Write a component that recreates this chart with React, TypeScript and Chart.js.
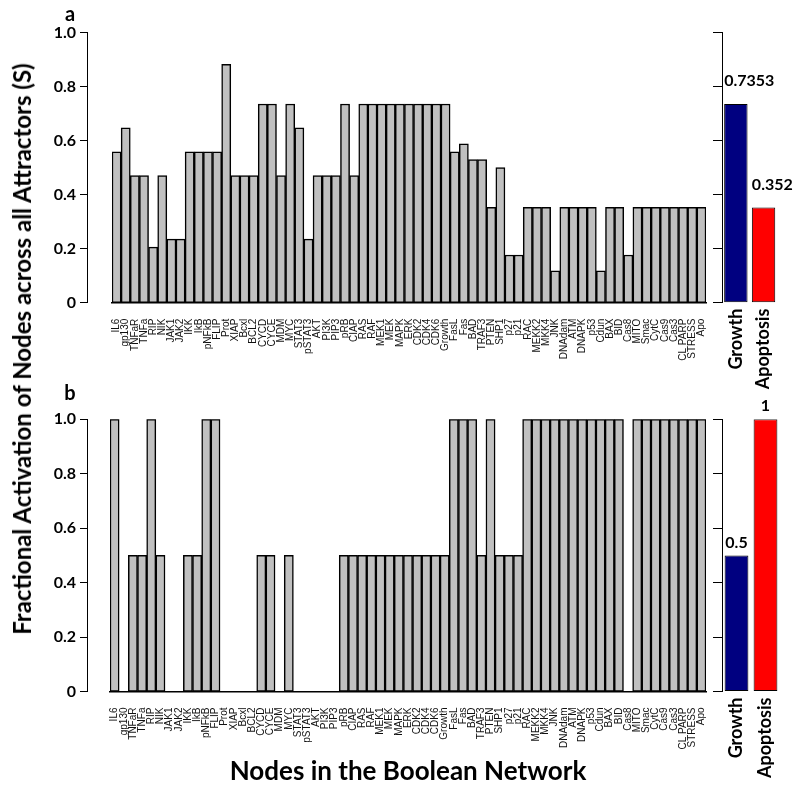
import React, { useEffect, useRef } from 'react';
import { Chart, registerables } from 'chart.js';
Chart.register(...registerables);

// ---------------- data ----------------
const nodeLabels = ['IL6','gp130','TNFaR','TNFa','RIP','NIK','JAK1','JAK2','IKK','IkB','pNFkB','FLIP','Prot','XIAP','Bcxl','BCL2','CYCD','CYCE','MDM','MYC','STAT3','pSTAT3','AKT','PI3K','PIP3','pRB','CIAP','RAS','RAF','MEK1','MEK','MAPK','ERK','CDK2','CDK4','CDK6','Growth','FasL','Fas','BAD','TRAF3','PTEN','SHP1','p27','p21','RAC','MEKK2','MKK4','JNK','DNAdam','ATM','DNAPK','p53','Cdun','BAX','BID','Cas8','MITO','Smac','CytC','Cas9','Cas3','CL PARP','STRESS','Apo'];

const activationA = [
  0.5588,0.6471,0.4706,0.4706,0.2059,0.4706,0.2353,0.2353,0.5588,0.5588,0.5588,0.5588,0.8824,0.4706,0.4706,0.4706,0.7353,0.7353,0.4706,0.7353,0.6471,0.2353,0.4706,0.4706,0.4706,0.7353,0.4706,
  0.7353,0.7353,0.7353,0.7353,0.7353,0.7353,0.7353,0.7353,0.7353,0.7353,
  0.5588,0.5882,0.5294,0.5294,0.3529,0.5,0.1765,0.1765,0.3529,0.3529,0.3529,0.1176,0.3529,0.3529,0.3529,0.3529,0.1176,0.3529,0.3529,0.1765,0.3529,
  0.3529,0.3529,0.3529,0.3529,0.3529,0.3529,0.3529,
];

const activationB = [
  1,0,0.5,0.5,1,0.5,0,0,0.5,0.5,1,1,0,0,0,0,0.5,0.5,0,0.5,0,0,0,0,0,
  0.5,0.5,0.5,0.5,0.5,0.5,0.5,0.5,0.5,0.5,0.5,0.5,
  1,1,1,0.5,1,0.5,0.5,0.5,
  1,1,1,1,1,1,1,1,1,1,1,
  0,
  1,1,1,1,1,1,1,1,
];

const outcomeLabels = ['Growth', 'Apoptosis'];
const outcomeA = [0.7353, 0.352];
const outcomeB = [0.5, 1];

const yTickLabels = ['0', '0.2', '0.4', '0.6', '0.8', '1.0'];

const yTitle = 'Fractional Activation of Nodes across all Attractors (S)';
const xTitle = 'Nodes in the Boolean Network';

// ---------------- layout / style ----------------
const BOLD = 'Lato, "Open Sans", sans-serif';
const LABEL_FONT = '"Liberation Sans", Arial, sans-serif';

type Panel = {
  top: number; height: number; yTop: number; yBottom: number;
  barLeft: number; barRight: number; sideRight: number; sideBar: number;
  values: number[]; outcomes: number[];
  labelAlign: 'left' | 'center'; labelOffset: number; showXTitle: boolean;
};

const panelA: Panel = {
  top: 0, height: 400, yTop: 32.5, yBottom: 302.7,
  barLeft: 112, barRight: 706, sideRight: 777.4, sideBar: 0.845,
  values: activationA, outcomes: outcomeA,
  labelAlign: 'left', labelOffset: 23, showXTitle: false,
};
const panelB: Panel = {
  top: 380, height: 407, yTop: 39.3, yBottom: 311.5,
  barLeft: 110, barRight: 706, sideRight: 780, sideBar: 0.82,
  values: activationB, outcomes: outcomeB,
  labelAlign: 'center', labelOffset: 13, showXTitle: true,
};

const MAIN_LEFT = 100, MAIN_W = 620;
const SIDE_LEFT = 700, SIDE_W = 100;

function valueLabelPlugin(align: 'left' | 'center', offset: number) {
  return {
    id: 'valueLabels',
    afterDatasetsDraw(chart: any) {
      const { ctx } = chart;
      const meta = chart.getDatasetMeta(0);
      const data = chart.data.datasets[0].data;
      ctx.save();
      ctx.font = `bold 16px ${BOLD}`;
      ctx.fillStyle = '#000';
      ctx.textAlign = align;
      ctx.textBaseline = 'middle';
      meta.data.forEach((el: any, i: number) => {
        const { x, y, width } = el.getProps(['x', 'y', 'width'], true);
        const tx = align === 'left' ? x - width / 2 : x;
        ctx.fillText(String(data[i]), tx, y - offset);
      });
      ctx.restore();
    },
  };
}

function axisConfig(p: Panel): any {
  return {
    type: 'bar',
    data: { labels: [], datasets: [] },
    options: {
      animation: false, responsive: false, events: [],
      layout: { padding: { top: p.yTop, bottom: p.height - p.yBottom, left: 0, right: 0 } },
      plugins: { legend: { display: false }, tooltip: { enabled: false } },
      scales: {
        x: { display: false },
        y: {
          min: 0, max: 1,
          ticks: {
            stepSize: 0.2, color: '#000', padding: 4,
            callback: (_v: any, i: number) => yTickLabels[i],
            font: { family: BOLD, weight: 'bold', size: 16 },
          },
          grid: { display: true, drawOnChartArea: false, drawTicks: true, tickLength: 7, color: '#000' },
          border: { display: true, color: '#000', width: 1 },
          afterFit: (s: any) => { s.width = 87; },
        },
      },
    },
  };
}

function mainConfig(p: Panel): any {
  return {
    type: 'bar',
    data: {
      labels: nodeLabels,
      datasets: [{
        data: p.values, backgroundColor: '#c0c0c0', borderColor: '#000',
        borderWidth: 1.5, borderSkipped: false, barPercentage: 1, categoryPercentage: 1,
      }],
    },
    options: {
      animation: false, responsive: false, events: [],
      layout: { padding: { top: p.yTop, left: p.barLeft - MAIN_LEFT, right: MAIN_LEFT + MAIN_W - p.barRight, bottom: 0 } },
      plugins: { legend: { display: false }, tooltip: { enabled: false } },
      scales: {
        x: {
          grid: { display: false, drawTicks: true, tickLength: 13 },
          border: { display: true, color: '#000', width: 1.5 },
          ticks: {
            autoSkip: false, minRotation: 90, maxRotation: 90, padding: 3, color: '#111',
            font: { family: LABEL_FONT, size: 10 },
          },
          title: {
            display: p.showXTitle, text: xTitle, color: '#000',
            font: { family: BOLD, weight: 'bold', size: 26 }, padding: { top: 0, bottom: 0 },
          },
          afterFit: (s: any) => { s.height = p.height - p.yBottom; },
        },
        y: { display: false, min: 0, max: 1 },
      },
    },
  };
}

function sideConfig(p: Panel): any {
  return {
    type: 'bar',
    data: {
      labels: outcomeLabels,
      datasets: [{
        data: p.outcomes, backgroundColor: ['#000080', '#ff0000'], borderColor: '#000',
        borderWidth: 1, borderSkipped: false, barPercentage: p.sideBar, categoryPercentage: 1,
      }],
    },
    options: {
      animation: false, responsive: false, events: [],
      layout: { padding: { top: p.yTop, left: 0, right: SIDE_LEFT + SIDE_W - p.sideRight, bottom: 0 } },
      plugins: { legend: { display: false }, tooltip: { enabled: false } },
      scales: {
        x: {
          grid: { display: false, drawTicks: true, tickLength: 3 },
          border: { display: false },
          ticks: {
            autoSkip: false, minRotation: 90, maxRotation: 90, padding: 3, color: '#000',
            font: { family: BOLD, weight: 'bold', size: 18 },
          },
          afterFit: (s: any) => { s.height = p.height - p.yBottom; },
        },
        y: {
          min: 0, max: 1,
          ticks: { display: false, stepSize: 0.2 },
          grid: { display: true, drawOnChartArea: false, drawTicks: true, tickLength: 9, color: '#000' },
          border: { display: true, color: '#000', width: 1 },
          afterFit: (s: any) => { s.width = 22; },
        },
      },
    },
    plugins: [valueLabelPlugin(p.labelAlign, p.labelOffset)],
  };
}

function ChartCanvas(props: { left: number; top: number; width: number; height: number; make: () => any }) {
  const ref = useRef<HTMLCanvasElement>(null);
  useEffect(() => {
    const chart = new Chart(ref.current as HTMLCanvasElement, props.make());
    return () => chart.destroy();
  }, []);
  return (
    <canvas
      ref={ref}
      width={props.width}
      height={props.height}
      style={{ position: 'absolute', left: props.left, top: props.top, width: props.width, height: props.height }}
    />
  );
}

function PanelView({ p }: { p: Panel }) {
  return (
    <>
      <ChartCanvas left={0} top={p.top} width={100} height={p.height} make={() => axisConfig(p)} />
      <ChartCanvas left={MAIN_LEFT} top={p.top} width={MAIN_W} height={p.height} make={() => mainConfig(p)} />
      <ChartCanvas left={SIDE_LEFT} top={p.top} width={SIDE_W} height={p.height} make={() => sideConfig(p)} />
    </>
  );
}

export default function App() {
  return (
    <div style={{ position: 'absolute', left: 0, top: 0, width: 800, height: 787, background: '#fff', overflow: 'hidden' }}>
      <PanelView p={panelA} />
      <PanelView p={panelB} />
      <div style={{
        position: 'absolute', left: 22, top: 349, transform: 'translate(-50%, -50%) rotate(-90deg)',
        whiteSpace: 'nowrap', fontFamily: BOLD, fontWeight: 'bold', fontSize: 24, color: '#000', lineHeight: 1,
      }}>{yTitle}</div>
      <div style={{
        position: 'absolute', left: 70, top: 13, transform: 'translate(-50%, -50%)',
        fontFamily: BOLD, fontWeight: 'bold', fontSize: 20, color: '#000', lineHeight: 1,
      }}>a</div>
      <div style={{
        position: 'absolute', left: 70, top: 392, transform: 'translate(-50%, -50%)',
        fontFamily: BOLD, fontWeight: 'bold', fontSize: 20, color: '#000', lineHeight: 1,
      }}>b</div>
    </div>
  );
}
